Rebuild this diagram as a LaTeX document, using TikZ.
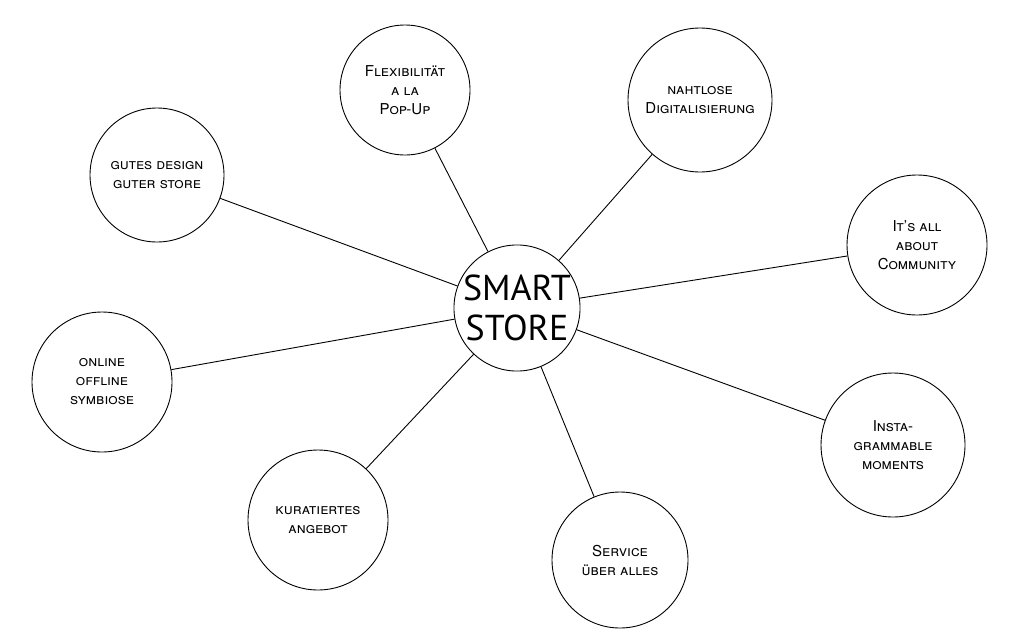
\documentclass[tikz,border=0pt]{standalone}
\usepackage{fontspec}
\setmainfont{TeX Gyre Heros}
\newfontfamily\centerfont{PT Sans}
\begin{document}
\begin{tikzpicture}[x=1pt,y=-1pt,
  bub/.style={draw,circle,line width=0.9pt,fill=white,align=center,font=\fontsize{15}{19}\selectfont\scshape,inner sep=0pt},
  link/.style={line width=0.9pt}]
\useasboundingbox (0,0) rectangle (1024,640);
\node[bub,minimum size=124pt,font=\centerfont\fontsize{36}{40}\selectfont] (c) at (517,308) {SMART\\STORE};
\node[bub,minimum size=130pt] (a) at (405,90) {Flexibilität\\a la\\Pop-Up};
\node[bub,minimum size=144pt] (b) at (700,100) {nahtlose\\Digitalisierung};
\node[bub,minimum size=134pt] (d) at (157,175) {gutes design\\guter store};
\node[bub,minimum size=140pt] (e) at (917,245) {It's all\\about\\Community};
\node[bub,minimum size=140pt] (f) at (102,382) {online\\offline\\symbiose};
\node[bub,minimum size=144pt] (g) at (893,445) {Insta-\\grammable\\moments};
\node[bub,minimum size=140pt] (h) at (318,520) {kuratiertes\\angebot};
\node[bub,minimum size=136pt] (i) at (620,560) {Service\\über alles};
\foreach \n in {a,b,d,e,f,g,h,i} \draw[link] (c) -- (\n);
\end{tikzpicture}
\end{document}
